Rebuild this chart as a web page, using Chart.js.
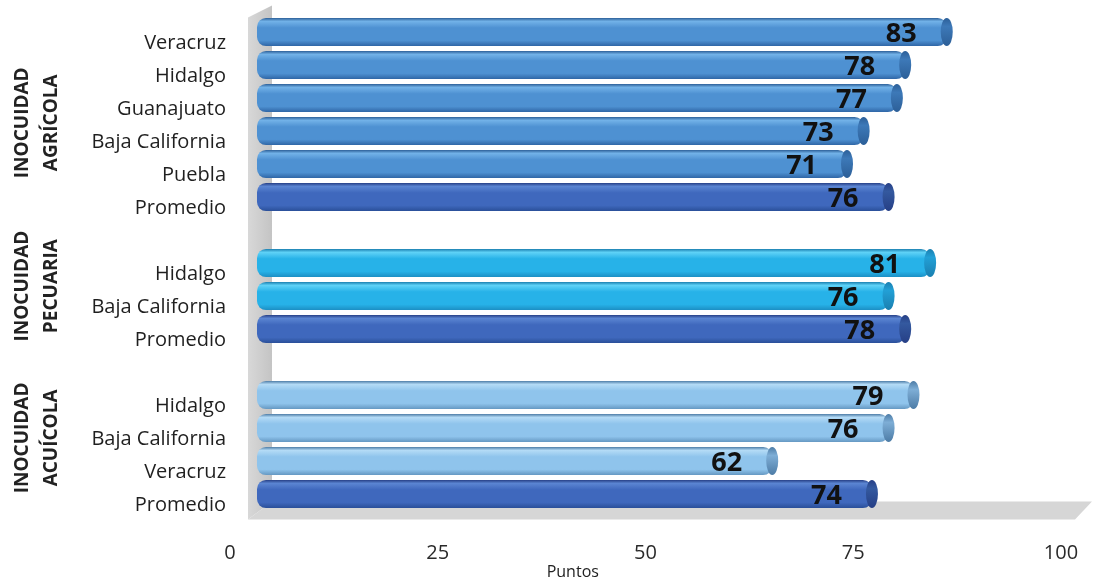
<!DOCTYPE html>
<html>
<head>
<meta charset="utf-8">
<script src="https://cdn.jsdelivr.net/npm/chart.js@4/dist/chart.umd.min.js"></script>
<style>
  body { margin: 0; background: #fff; }
  #wrap { width: 1096px; height: 582px; }
</style>
</head>
<body>
<div id="wrap"><canvas id="barChart"></canvas></div>
<script>
// rows top to bottom, empty strings are the gaps between groups
const categories = ['Veracruz', 'Hidalgo', 'Guanajuato', 'Baja California', 'Puebla', 'Promedio', '',
                    'Hidalgo', 'Baja California', 'Promedio', '',
                    'Hidalgo', 'Baja California', 'Veracruz', 'Promedio'];
const puntos = [83, 78, 77, 73, 71, 76, null, 81, 76, 78, null, 79, 76, 62, 74];
const sector = ['agricola', 'agricola', 'agricola', 'agricola', 'agricola', 'promedio', '',
                'pecuaria', 'pecuaria', 'promedio', '',
                'acuicola', 'acuicola', 'acuicola', 'promedio'];
const groupNames = [['INOCUIDAD', 'AGRÍCOLA'], ['INOCUIDAD', 'PECUARIA'], ['INOCUIDAD', 'ACUÍCOLA']];
const groupAt = [2.75, 7.7, 12.3];
const xTicks = [0, 25, 50, 75, 100];
const axisTitle = 'Puntos';

// edge, highlight, base, bottom, cap
const palette = {
  agricola: ['#2c5f98', '#72b2e8', '#4e91d2', '#2f66a6', '#3d79b8'],
  promedio: ['#263f86', '#5b85d2', '#3f68bd', '#2a4f99', '#34599f'],
  pecuaria: ['#1a7fb0', '#5fd2f7', '#27b2e8', '#1c8fc4', '#22a0d6'],
  acuicola: ['#4d7ca6', '#b4dbf6', '#8fc4ec', '#6598c2', '#7eaed6']
};

function barFill(ctx) {
  const chart = ctx.chart;
  const key = sector[ctx.dataIndex] || 'agricola';
  const c = palette[key];
  const ys = chart.scales.y;
  if (!chart.chartArea || !ys) return c[2];
  const slot = ys.getPixelForValue(1) - ys.getPixelForValue(0);
  const yc = ys.getPixelForValue(ctx.dataIndex);
  const h = slot * 0.85;
  const g = chart.ctx.createLinearGradient(0, yc - h / 2, 0, yc + h / 2);
  g.addColorStop(0, c[0]);
  g.addColorStop(0.12, c[1]);
  g.addColorStop(0.35, c[2]);
  g.addColorStop(0.8, c[2]);
  g.addColorStop(1, c[3]);
  return g;
}

function noPad(s) {
  s.paddingTop = 0;
  s.paddingBottom = 0;
  s.paddingLeft = 0;
  s.paddingRight = 0;
}

const scene = {
  id: 'scene',
  beforeDatasetsDraw(chart) {
    const { ctx, chartArea: a } = chart;
    ctx.save();
    // left wall
    let g = ctx.createLinearGradient(a.left - 9, 0, a.left + 15, 0);
    g.addColorStop(0, '#d8d8d8');
    g.addColorStop(1, '#c4c4c4');
    ctx.fillStyle = g;
    ctx.beginPath();
    ctx.moveTo(a.left - 9, a.top + 2);
    ctx.lineTo(a.left + 15, a.top - 10);
    ctx.lineTo(a.left + 15, a.bottom - 9);
    ctx.lineTo(a.left - 9, a.bottom + 9);
    ctx.closePath();
    ctx.fill();
    // floor
    ctx.fillStyle = '#d6d6d6';
    ctx.beginPath();
    ctx.moveTo(a.left - 9, a.bottom + 9);
    ctx.lineTo(a.left + 15, a.bottom - 9);
    ctx.lineTo(a.right + 4, a.bottom - 9);
    ctx.lineTo(a.right - 13, a.bottom + 9);
    ctx.closePath();
    ctx.fill();
    ctx.restore();
  },
  afterDatasetsDraw(chart) {
    const { ctx } = chart;
    const meta = chart.getDatasetMeta(0);
    ctx.save();
    meta.data.forEach((bar, i) => {
      if (puntos[i] == null) return;
      const c = palette[sector[i]];
      const h = bar.height;
      const g = ctx.createLinearGradient(0, bar.y - h / 2, 0, bar.y + h / 2);
      g.addColorStop(0, c[0]);
      g.addColorStop(0.3, c[4]);
      g.addColorStop(1, c[0]);
      ctx.fillStyle = g;
      ctx.beginPath();
      ctx.ellipse(bar.x, bar.y, 6, h / 2, 0, 0, Math.PI * 2);
      ctx.fill();
      // value
      ctx.fillStyle = '#111';
      ctx.font = 'bold 27px "Open Sans"';
      ctx.textAlign = 'right';
      ctx.textBaseline = 'middle';
      ctx.fillText(puntos[i], bar.x - 30, bar.y + 2);
    });
    // group labels
    ctx.fillStyle = '#222';
    ctx.font = 'bold 19px "Open Sans"';
    ctx.textAlign = 'center';
    ctx.textBaseline = 'middle';
    groupNames.forEach((lines, k) => {
      const y = chart.scales.y.getPixelForValue(groupAt[k]);
      lines.forEach((t, j) => {
        ctx.save();
        ctx.translate(23 + j * 29, y);
        ctx.rotate(-Math.PI / 2);
        ctx.fillText(t, 0, 0);
        ctx.restore();
      });
    });
    // axis title
    ctx.font = '16px "Open Sans"';
    ctx.fillStyle = '#222';
    ctx.fillText(axisTitle, chart.scales.x.getPixelForValue(38), 572);
    ctx.restore();
  }
};

new Chart(document.getElementById('barChart'), {
  type: 'bar',
  data: {
    labels: categories,
    datasets: [{
      data: puntos,
      backgroundColor: barFill,
      borderWidth: 0,
      borderRadius: 9,
      borderSkipped: false,
      barPercentage: 0.85,
      categoryPercentage: 1
    }]
  },
  options: {
    indexAxis: 'y',
    responsive: true,
    maintainAspectRatio: false,
    animation: false,
    layout: { padding: { top: 15.5, right: 8, left: 0, bottom: 0 } },
    plugins: { legend: { display: false }, tooltip: { enabled: false } },
    scales: {
      x: {
        min: 0,
        max: 100,
        afterBuildTicks: (s) => { s.ticks = xTicks.map(v => ({ value: v })); },
        afterFit: (s) => { s.height = 71.5; noPad(s); },
        grid: { display: false, drawTicks: false },
        border: { display: false },
        ticks: { padding: 31, labelOffset: -27, color: '#2a2a2a', font: { family: 'Open Sans', size: 20 } }
      },
      y: {
        afterFit: (s) => { s.width = 257; noPad(s); },
        grid: { display: false, drawTicks: false },
        border: { display: false },
        ticks: { padding: 31, labelOffset: 11, autoSkip: false, color: '#1f1f1f', font: { family: 'Open Sans', size: 20 } }
      }
    }
  },
  plugins: [scene]
});
</script>
</body>
</html>
